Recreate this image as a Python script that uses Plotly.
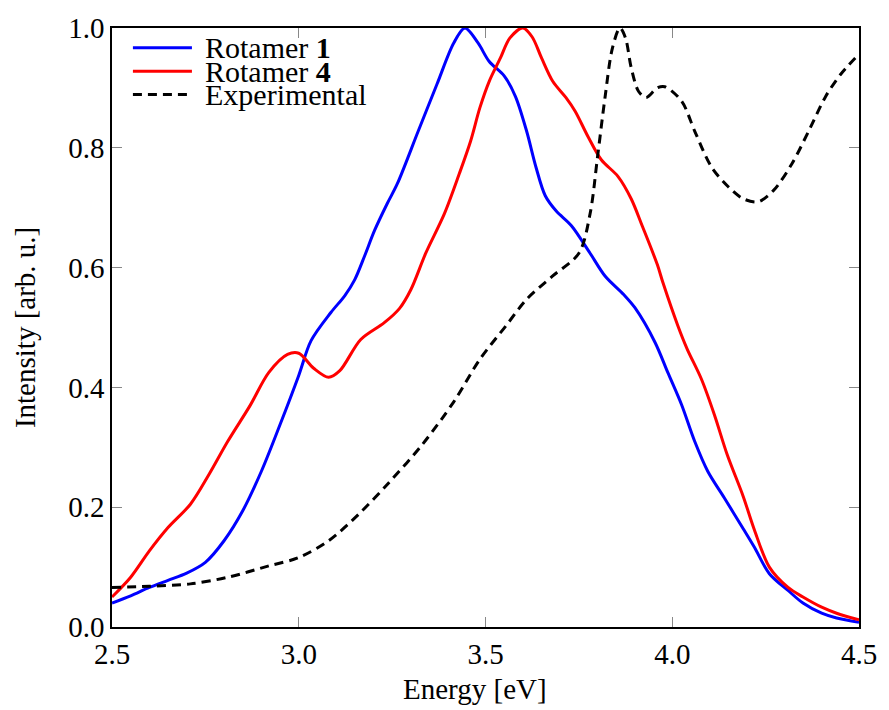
import plotly.graph_objects as go

# Computed spectra (normalised) and experimental absorption
energy_r1 = [2.50, 2.55, 2.60, 2.65, 2.70, 2.75, 2.80, 2.85, 2.90, 2.95, 3.00, 3.033, 3.086,
             3.123, 3.15, 3.176, 3.203, 3.237, 3.264, 3.32, 3.37, 3.415, 3.445, 3.48, 3.51,
             3.55, 3.58, 3.61, 3.635, 3.66, 3.69, 3.73, 3.78, 3.82, 3.87, 3.90, 3.954, 3.988,
             4.025, 4.06, 4.095, 4.14, 4.19, 4.22, 4.26, 4.31, 4.35, 4.40, 4.44, 4.50]
intensity_r1 = [0.040, 0.052, 0.066, 0.078, 0.090, 0.108, 0.144, 0.194, 0.260, 0.338, 0.420,
                0.478, 0.525, 0.553, 0.580, 0.619, 0.662, 0.707, 0.740, 0.828, 0.906, 0.975,
                1.000, 0.975, 0.944, 0.920, 0.886, 0.828, 0.768, 0.720, 0.694, 0.670, 0.624,
                0.586, 0.555, 0.533, 0.475, 0.425, 0.371, 0.310, 0.260, 0.215, 0.164, 0.133,
                0.089, 0.061, 0.040, 0.023, 0.015, 0.008]

energy_r4 = [2.50, 2.55, 2.60, 2.65, 2.71, 2.76, 2.81, 2.87, 2.92, 2.97, 3.00, 3.04, 3.08,
             3.11, 3.166, 3.229, 3.27, 3.30, 3.34, 3.39, 3.43, 3.46, 3.485, 3.51, 3.54, 3.565,
             3.60, 3.625, 3.65, 3.68, 3.715, 3.74, 3.775, 3.81, 3.855, 3.89, 3.92, 3.96,
             3.975, 4.015, 4.04, 4.078, 4.113, 4.147, 4.19, 4.22, 4.26, 4.31, 4.35, 4.40,
             4.44, 4.50]
intensity_r4 = [0.050, 0.083, 0.127, 0.166, 0.205, 0.255, 0.310, 0.370, 0.425, 0.455, 0.457,
                0.432, 0.417, 0.428, 0.480, 0.508, 0.532, 0.563, 0.624, 0.690, 0.757, 0.811,
                0.867, 0.911, 0.950, 0.983, 1.000, 0.985, 0.950, 0.911, 0.884, 0.861, 0.818,
                0.780, 0.752, 0.715, 0.669, 0.605, 0.575, 0.503, 0.464, 0.414, 0.354, 0.288,
                0.218, 0.162, 0.100, 0.066, 0.050, 0.033, 0.023, 0.012]

energy_exp = [2.50, 2.60, 2.71, 2.81, 2.92, 3.00, 3.08, 3.16, 3.24, 3.33, 3.415, 3.485,
              3.555, 3.61, 3.68, 3.75, 3.78, 3.80, 3.82, 3.84, 3.86, 3.875, 3.89, 3.91,
              3.93, 3.96, 3.98, 4.025, 4.06, 4.105, 4.15, 4.19, 4.23, 4.27, 4.32, 4.37,
              4.41, 4.45, 4.49]
intensity_exp = [0.066, 0.068, 0.072, 0.083, 0.102, 0.116, 0.144, 0.188, 0.240, 0.304,
                 0.376, 0.447, 0.503, 0.547, 0.586, 0.624, 0.690, 0.785, 0.884, 0.967,
                 1.000, 0.983, 0.934, 0.894, 0.884, 0.900, 0.902, 0.878, 0.828, 0.768,
                 0.735, 0.715, 0.710, 0.728, 0.773, 0.834, 0.885, 0.922, 0.950]

x_ticks = [2.5, 3.0, 3.5, 4.0, 4.5]
y_ticks = [0.0, 0.2, 0.4, 0.6, 0.8, 1.0]

series_names = ["Rotamer <b>1</b>", "Rotamer <b>4</b>", "Experimental"]
series_colors = ["#0000ff", "#ff0000", "#000000"]
series_dash = ["solid", "solid", "9px,6px"]

FONT = "Liberation Serif"

fig = go.Figure()
for xs, ys, color, dash in [
    (energy_r1, intensity_r1, series_colors[0], series_dash[0]),
    (energy_r4, intensity_r4, series_colors[1], series_dash[1]),
    (energy_exp, intensity_exp, series_colors[2], series_dash[2]),
]:
    fig.add_trace(go.Scatter(
        x=xs, y=ys, mode="lines",
        line=dict(color=color, width=3, dash=dash, shape="spline", smoothing=0.9),
        showlegend=False,
    ))

# Hand-built legend in the upper-left corner of the axes
legend_rows_y = [0.967, 0.928, 0.889]
for name, color, dash, ly in zip(series_names, series_colors, series_dash, legend_rows_y):
    fig.add_shape(type="line", xref="paper", yref="paper",
                  x0=0.028, x1=0.107, y0=ly, y1=ly,
                  line=dict(color=color, width=3, dash=dash))
    fig.add_annotation(xref="paper", yref="paper", x=0.122, y=ly,
                       text=name, showarrow=False, xanchor="left", yanchor="middle",
                       font=dict(family=FONT, size=30, color="black"))

# Axis titles placed as annotations
fig.add_annotation(xref="paper", yref="paper", x=0.486, y=-0.104,
                   text="Energy [eV]", showarrow=False, xanchor="center", yanchor="middle",
                   font=dict(family=FONT, size=29, color="black"))
fig.add_annotation(xref="paper", yref="paper", x=-0.117, y=0.5,
                   text="Intensity [arb. u.]", showarrow=False, textangle=-90,
                   xanchor="center", yanchor="middle",
                   font=dict(family=FONT, size=29, color="black"))

axis_common = dict(
    showline=True, linecolor="black", linewidth=1.5, mirror="allticks",
    ticks="inside", ticklen=10, tickwidth=1, tickcolor="#888888",
    showgrid=False, zeroline=False,
    tickfont=dict(family=FONT, size=29, color="black"),
)

fig.update_layout(
    width=889, height=710,
    margin=dict(l=112, r=23, t=23, b=83),
    paper_bgcolor="white", plot_bgcolor="white",
    xaxis=dict(range=[2.5, 4.5], tickvals=x_ticks, tickformat=".1f", **axis_common),
    yaxis=dict(range=[0, 1], tickvals=y_ticks, tickformat=".1f", **axis_common),
)

fig.write_html("out.html")
